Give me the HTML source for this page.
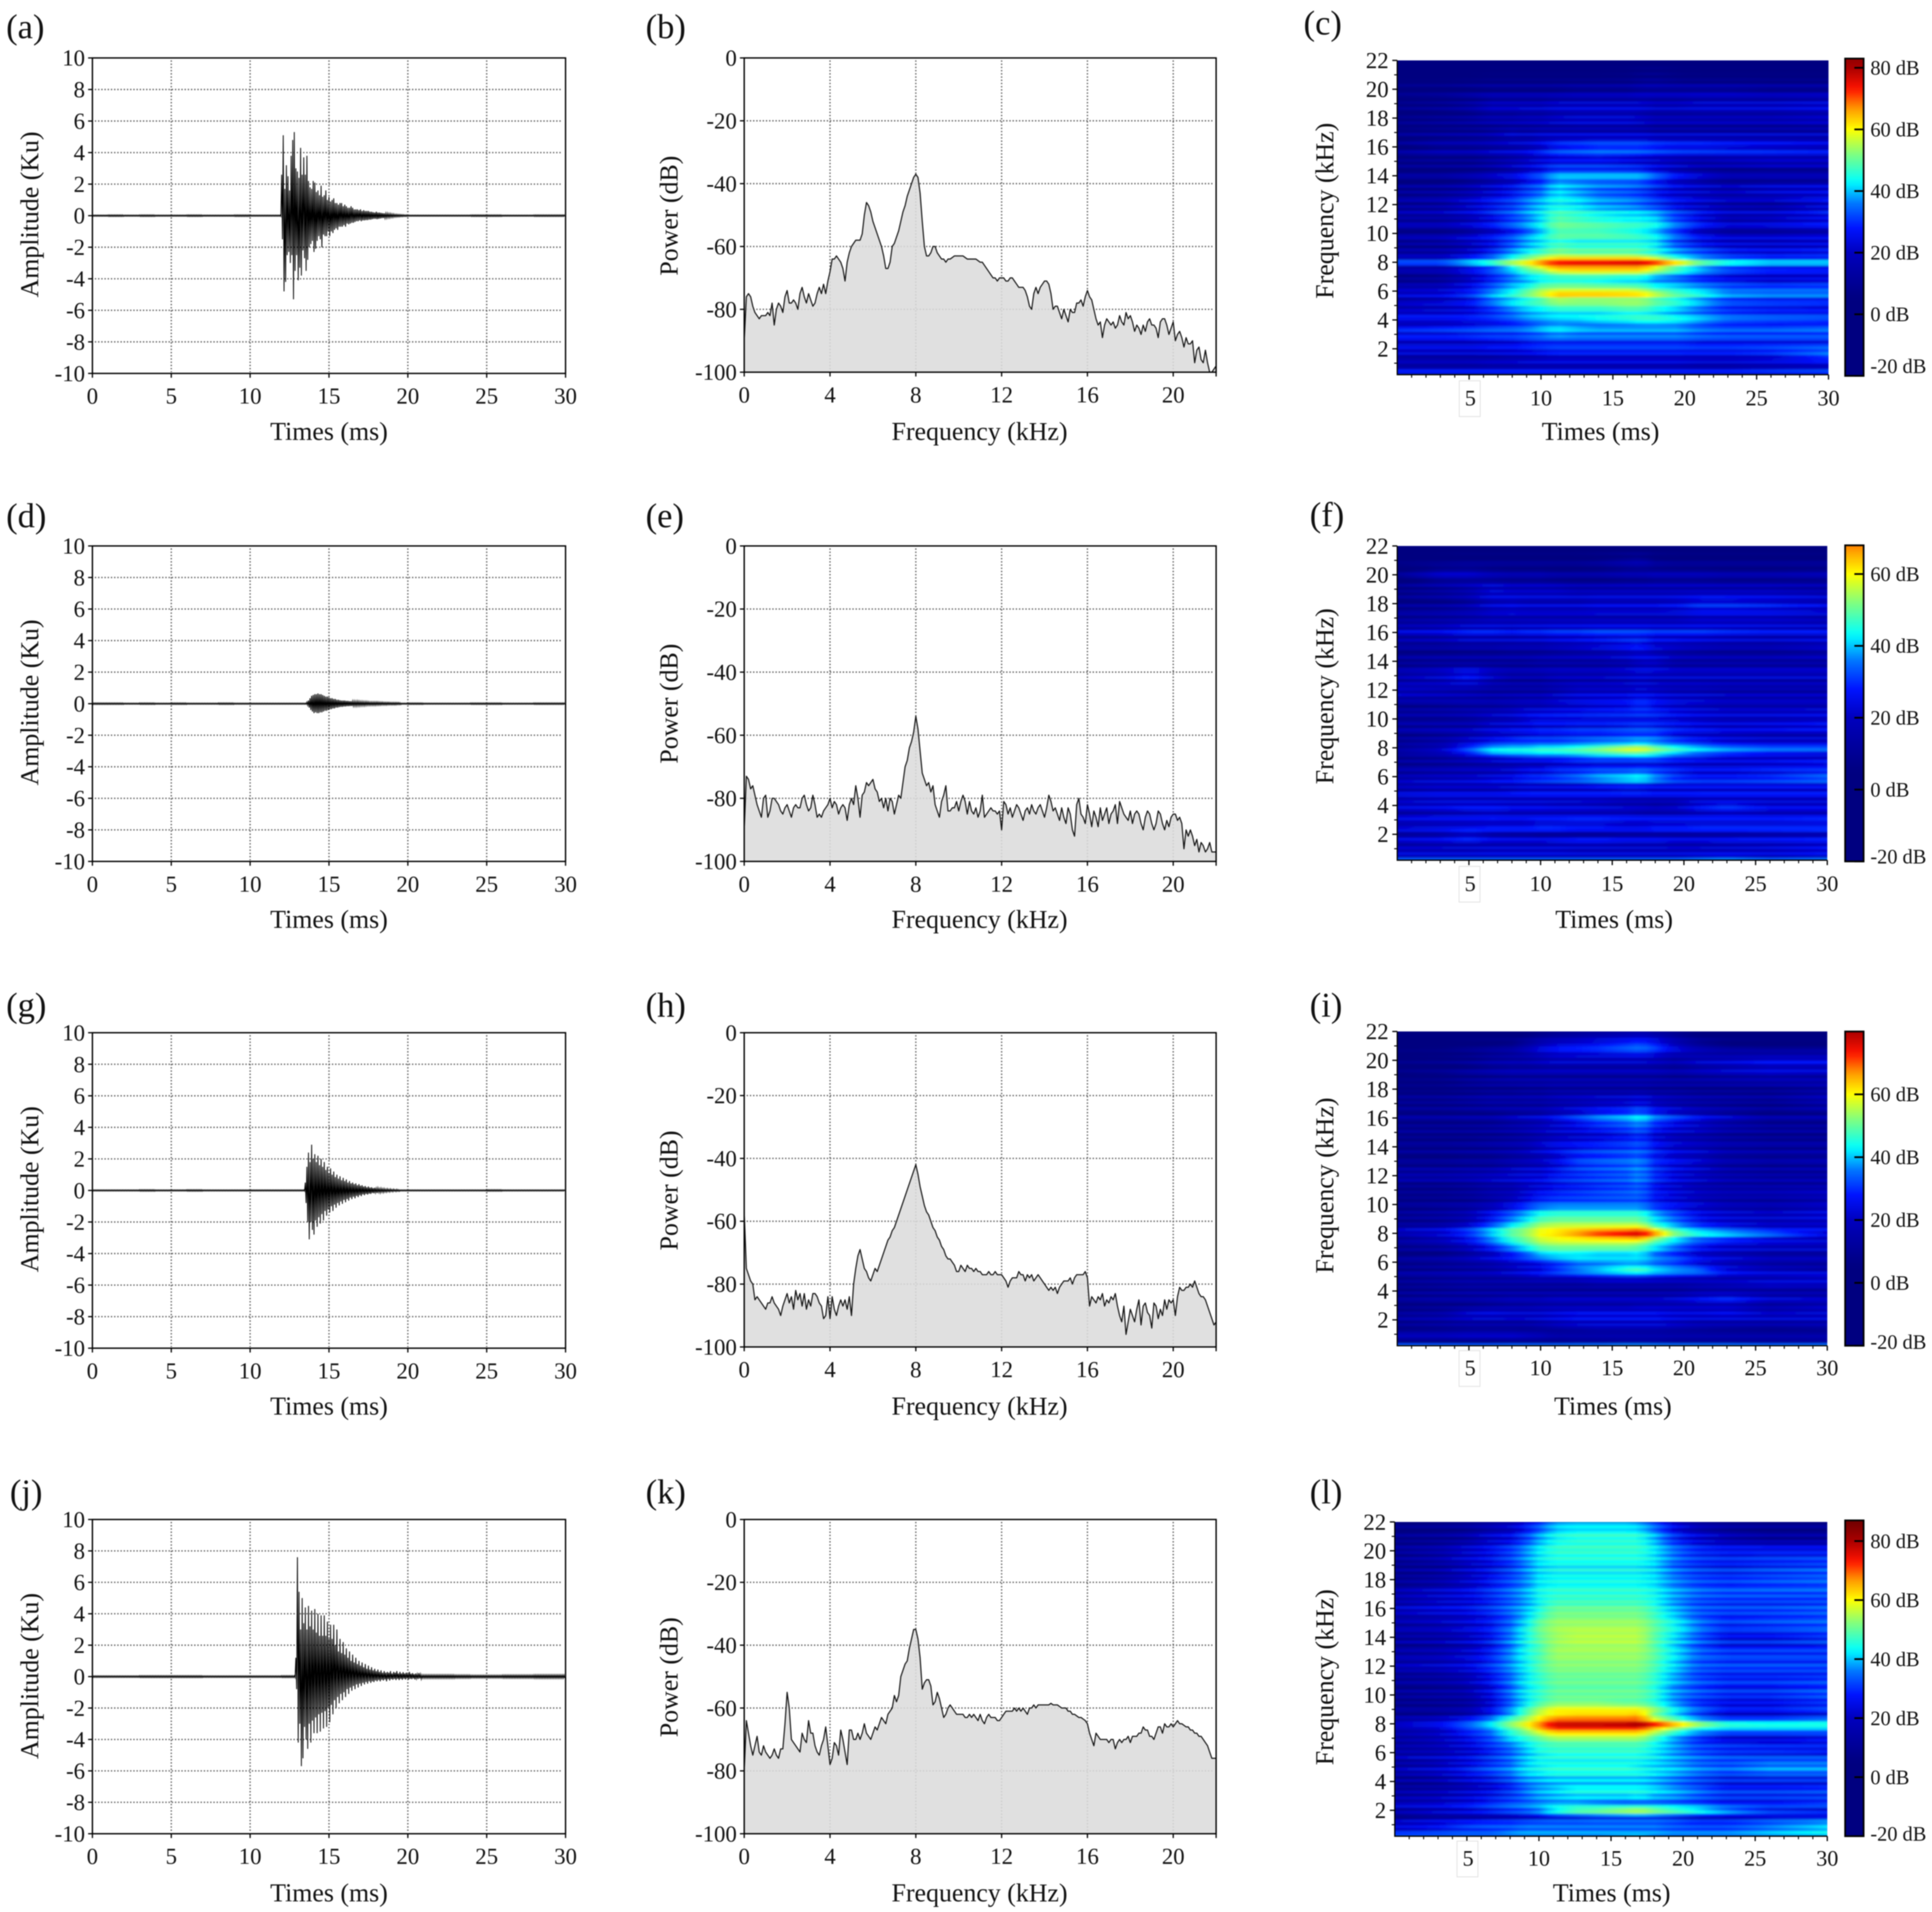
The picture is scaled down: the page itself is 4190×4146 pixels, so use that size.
<!DOCTYPE html>
<html lang="en">
<head>
<meta charset="utf-8">
<title>Waveforms, power spectra and spectrograms</title>
<style>
html,body{margin:0;padding:0;background:#fff;}
body{width:4190px;height:4146px;overflow:hidden;}
#figure{display:block;filter:blur(1px);}
#figure text{font-family:"Liberation Serif",serif;fill:#111;}
.pl{font-size:28px;}
.ttl{font-size:21px;text-anchor:middle;}
</style>
</head>
<body>
<svg id="figure" width="4190" height="4146" viewBox="0 0 1568 1551.5">
<rect x="0" y="0" width="1568" height="1552" fill="#fff"/>
<g id="plots"></g>

<text class="pl" x="5" y="31">(a)</text>
<text class="pl" x="524" y="31">(b)</text>
<text class="pl" x="1058" y="28">(c)</text>
<text class="pl" x="5" y="428">(d)</text>
<text class="pl" x="524" y="428">(e)</text>
<text class="pl" x="1063" y="427">(f)</text>
<text class="pl" x="5" y="825">(g)</text>
<text class="pl" x="524" y="825">(h)</text>
<text class="pl" x="1063" y="825">(i)</text>
<text class="pl" x="8" y="1220">(j)</text>
<text class="pl" x="524" y="1220">(k)</text>
<text class="pl" x="1063" y="1220">(l)</text>

<text class="ttl" x="267" y="357">Times (ms)</text>
<text class="ttl" x="795" y="357">Frequency (kHz)</text>
<text class="ttl" x="1299" y="357">Times (ms)</text>
<text class="ttl" x="267" y="753">Times (ms)</text>
<text class="ttl" x="795" y="753">Frequency (kHz)</text>
<text class="ttl" x="1310" y="753">Times (ms)</text>
<text class="ttl" x="267" y="1148">Times (ms)</text>
<text class="ttl" x="795" y="1148">Frequency (kHz)</text>
<text class="ttl" x="1309" y="1148">Times (ms)</text>
<text class="ttl" x="267" y="1543">Times (ms)</text>
<text class="ttl" x="795" y="1543">Frequency (kHz)</text>
<text class="ttl" x="1308" y="1543">Times (ms)</text>

<text class="ttl" transform="translate(31,174) rotate(-90)">Amplitude (Ku)</text>
<text class="ttl" transform="translate(550,175) rotate(-90)">Power (dB)</text>
<text class="ttl" transform="translate(1082,171) rotate(-90)">Frequency (kHz)</text>
<text class="ttl" transform="translate(31,570) rotate(-90)">Amplitude (Ku)</text>
<text class="ttl" transform="translate(550,571) rotate(-90)">Power (dB)</text>
<text class="ttl" transform="translate(1082,565) rotate(-90)">Frequency (kHz)</text>
<text class="ttl" transform="translate(31,965) rotate(-90)">Amplitude (Ku)</text>
<text class="ttl" transform="translate(550,966) rotate(-90)">Power (dB)</text>
<text class="ttl" transform="translate(1082,962) rotate(-90)">Frequency (kHz)</text>
<text class="ttl" transform="translate(31,1360) rotate(-90)">Amplitude (Ku)</text>
<text class="ttl" transform="translate(550,1361) rotate(-90)">Power (dB)</text>
<text class="ttl" transform="translate(1082,1361) rotate(-90)">Frequency (kHz)</text>
</svg>

<script>
/* ---------- tick labels ---------- */
const waveXTicks=[0,5,10,15,20,25,30];
const waveYTicks=[10,8,6,4,2,0,-2,-4,-6,-8,-10];
const specXTicks=[0,4,8,12,16,20];
const specYTicks=[0,-20,-40,-60,-80,-100];
const sgramFreqTicks=[22,20,18,16,14,12,10,8,6,4,2];
const sgramTimeTicks=[5,10,15,20,25,30];

/* ---------- waveforms: peak envelope every 0.1 ms from onset (Ku), floor per ms ---------- */
const waveAOnset=12.0;
const waveATop=[2.6,5.1,1.7,3.2,2.5,1.6,3.8,4.8,5.3,3.0,2.8,2.4,4.3,2.6,3.7,2.6,3.8,2.2,1.8,1.7,2.2,2.1,1.5,1.6,1.3,1.9,1.2,1.3,1.6,1.0,1.2,.9,1.0,1.1,.8,.8,.7,.8,.8,.6,.7,.6,.5,.5,.6,.5,.4,.4,.4,.35,.4,.3,.35,.3,.3,.3,.25,.25,.22,.2,.25,.2,.2,.18,.16,.15,.14,.14,.12,.12,.1,.1,.08,.08,.07,.07,.06,.06,.05,.05];
const waveABottom=[-1.5,-4.8,-4.2,-2.5,-2.3,-3.0,-2.5,-5.3,-3.5,-2.5,-4.1,-3.3,-3.8,-2.2,-2.7,-3.5,-2.8,-2.0,-1.8,-1.6,-2.3,-2.1,-1.6,-1.3,-1.5,-2.0,-1.2,-1.3,-1.3,-1.0,-1.3,-1.0,-1.1,-.9,-.8,-.9,-.7,-.7,-.7,-.6,-.7,-.5,-.55,-.5,-.45,-.45,-.4,-.35,-.35,-.3,-.35,-.3,-.3,-.28,-.28,-.25,-.25,-.22,-.2,-.2,-.22,-.2,-.18,-.16,-.15,-.15,-.14,-.12,-.12,-.1,-.1,-.08,-.08,-.07,-.07,-.06,-.06,-.05,-.05,-.05];
const waveAFloor=[.04,.05,.04,.05,.04,.04,.05,.04,.04,.05,.04,.04,.04,.04,.04,.04,.04,.04,.04,.04,.04,.04,.04,.04,.05,.05,.04,.04,.05,.05,.05];
const waveDOnset=13.6;
const waveDTop=[.1,.2,.35,.5,.55,.6,.6,.65,.6,.6,.55,.5,.45,.45,.4,.35,.35,.3,.3,.25,.25,.22,.2,.2,.2,.18,.18,.16,.16,.15,.15,.14,.15,.14,.13,.13,.12,.12,.12,.11,.1,.1,.1,.1,.1,.1,.09,.09,.09,.08,.08,.08,.08,.07,.07,.07,.07,.07,.07,.06];
const waveDBottom=[-.1,-.25,-.4,-.5,-.6,-.55,-.6,-.6,-.55,-.55,-.5,-.45,-.45,-.4,-.35,-.35,-.3,-.3,-.25,-.25,-.22,-.2,-.2,-.18,-.18,-.16,-.16,-.15,-.15,-.14,-.14,-.14,-.13,-.13,-.12,-.12,-.12,-.11,-.1,-.1,-.1,-.1,-.1,-.1,-.09,-.09,-.09,-.08,-.08,-.08,-.08,-.07,-.07,-.07,-.07,-.07,-.07,-.06,-.06,-.06];
const waveDFloor=[.05,.05,.04,.05,.04,.05,.04,.04,.05,.04,.04,.04,.04,.04,.04,.04,.04,.04,.04,.04,.05,.04,.04,.04,.05,.05,.04,.04,.05,.05,.05];
const waveGOnset=13.5;
const waveGTop=[.5,1.5,2.4,1.8,2.9,2.0,2.3,1.8,2.2,1.6,2,1.5,1.8,1.3,1.5,1.1,1.4,1.0,1.2,.85,1,.75,.9,.65,.8,.6,.7,.5,.6,.45,.5,.4,.45,.33,.4,.3,.33,.25,.28,.2,.25,.18,.2,.15,.17,.13,.15,.11,.13,.1,.11,.08,.1,.07,.09,.06,.08,.05,.07,.05];
const waveGBottom=[-.8,-2,-3.1,-2.0,-2.5,-2.8,-1.9,-2.3,-1.7,-2.1,-1.5,-1.9,-1.3,-1.6,-1.2,-1.4,-1.0,-1.3,-.9,-1.1,-.8,-.95,-.7,-.85,-.6,-.75,-.55,-.65,-.45,-.55,-.4,-.5,-.35,-.42,-.3,-.36,-.25,-.3,-.22,-.26,-.2,-.22,-.16,-.18,-.13,-.16,-.11,-.14,-.1,-.12,-.09,-.1,-.07,-.09,-.06,-.08,-.05,-.07,-.05,-.06];
const waveGFloor=[.04,.04,.04,.05,.04,.04,.05,.04,.04,.04,.04,.04,.04,.04,.04,.04,.04,.04,.04,.04,.04,.04,.04,.04,.04,.05,.04,.04,.04,.04,.04];
const waveJOnset=12.9;
const waveJTop=[1.2,7.6,5.4,3.0,5.0,3.4,4.4,3.0,4.5,3.2,4.2,3.0,4.3,2.8,4.0,2.6,3.9,2.6,3.9,2.6,3.5,2.4,3.3,2.4,3.3,2.0,3.0,1.6,2.4,1.5,2.2,1.4,1.8,1.2,1.6,1.0,1.4,.9,1.2,.8,1.0,.7,.9,.6,.8,.5,.7,.45,.6,.4,.5,.35,.45,.3,.4,.25,.35,.25,.3,.25,.35,.2,.3,.25,.35,.2,.3,.2,.28,.2,.25,.18,.3,.18,.22,.16,.2,.15,.22,.15];
const waveJBottom=[-.8,-4.2,-3.0,-5.7,-5.2,-3.2,-4.0,-4.6,-3.0,-4.2,-2.8,-3.6,-2.6,-3.6,-2.4,-3.5,-2.3,-3.3,-2.2,-3.2,-2.0,-2.9,-1.8,-2.4,-1.5,-2.0,-1.3,-1.7,-1.1,-1.5,-1.0,-1.3,-.8,-1.1,-.7,-.9,-.6,-.8,-.5,-.7,-.45,-.6,-.4,-.5,-.35,-.45,-.3,-.4,-.3,-.35,-.25,-.3,-.22,-.3,-.2,-.25,-.18,-.3,-.16,-.25,-.16,-.2,-.15,-.22,-.14,-.22,-.14,-.2,-.13,-.18,-.12,-.18,-.14,-.16,-.12,-.18,-.12,-.15,-.12,-.15];
const waveJFloor=[.05,.05,.05,.06,.06,.06,.06,.05,.05,.05,.05,.05,.06,.06,.06,.06,.06,.06,.06,.06,.1,.1,.1,.09,.08,.08,.09,.09,.1,.1,.1];

/* ---------- spectra: power (dB) every 0.1 kHz ---------- */
const spectrumB=[-90,-76,-75,-76,-79,-81,-82,-83,-82,-82,-82,-81,-82,-78,-85,-80,-78,-79,-81,-76,-74,-78,-78,-77,-78,-80,-75,-73,-76,-78,-75,-77,-79,-78,-75,-73,-75,-72,-75,-71,-68,-64,-64,-63,-64,-65,-67,-71,-65,-62,-60,-59,-58,-58,-58,-56,-50,-46,-47,-49,-52,-54,-56,-58,-60,-63,-67,-67,-65,-60,-59,-57,-55,-52,-49,-47,-44,-42,-40,-38,-37,-38,-43,-52,-60,-63,-63,-62,-60,-60,-62,-63,-64,-64,-65,-64,-64,-63.5,-63,-63,-63,-63,-63,-63.5,-64,-64,-64,-64,-64,-64.5,-65,-65,-66,-67,-68,-69,-70,-70,-71,-70,-70,-70,-71,-71,-70,-70,-71,-72,-73,-73,-73,-74,-76,-79,-80,-75,-73,-75,-73,-72,-71,-71,-72,-75,-80,-79,-79,-81,-83,-80,-82,-84,-80,-81,-81,-78,-78,-77,-79,-76,-74,-76,-77,-80,-83,-85,-84,-89,-85,-83,-84,-85,-84,-86,-85,-82,-84,-85,-81,-83,-82,-84,-87,-85,-86,-88,-85,-87,-84,-83,-85,-85,-86,-89,-84,-83,-83,-85,-88,-86,-84,-90,-88,-87,-89,-92,-89,-91,-91,-90,-97,-93,-92,-96,-97,-93,-97,-100,-100,-99,-98];
const spectrumE=[-90,-73,-74,-77,-76,-79,-82,-84,-86,-80,-79,-86,-84,-80,-80,-81,-82,-84,-85,-83,-82,-84,-86,-83,-82,-83,-83,-80,-79,-82,-84,-83,-79,-82,-86,-85,-86,-84,-83,-82,-80,-83,-81,-82,-85,-83,-82,-83,-87,-82,-80,-82,-76,-80,-86,-79,-78,-75,-76,-75,-74,-77,-78,-81,-80,-83,-80,-84,-80,-81,-85,-82,-79,-80,-75,-70,-68,-64,-62,-59,-54,-58,-65,-72,-74,-76,-75,-78,-76,-82,-84,-86,-81,-79,-76,-84,-84,-83,-83,-81,-84,-81,-79,-81,-85,-81,-84,-85,-83,-86,-84,-79,-86,-85,-84,-83,-84,-84,-85,-84,-90,-81,-82,-85,-83,-86,-84,-82,-83,-85,-87,-84,-83,-85,-82,-84,-85,-83,-82,-84,-86,-83,-79,-81,-84,-83,-85,-87,-83,-86,-88,-83,-85,-90,-92,-82,-80,-85,-86,-88,-82,-85,-89,-84,-86,-89,-83,-87,-85,-83,-88,-85,-84,-82,-88,-81,-83,-85,-86,-87,-84,-88,-85,-84,-85,-88,-90,-86,-84,-85,-88,-90,-88,-84,-85,-88,-90,-87,-89,-86,-85,-85,-87,-86,-88,-96,-90,-92,-90,-92,-95,-93,-97,-94,-95,-97,-96,-94,-97,-97,-97];
const spectrumH=[-57,-75,-77,-79,-80,-85,-84,-85,-86,-87,-88,-86,-86,-84,-86,-87,-88,-90,-87,-85,-83,-86,-84,-88,-82,-85,-83,-87,-83,-88,-85,-87,-83,-83,-84,-86,-87,-91,-90,-84,-91,-84,-88,-90,-87,-85,-87,-85,-88,-84,-90,-80,-75,-71,-69,-72,-75,-76,-78,-79,-77,-75,-76,-74,-72,-70,-68,-66,-65,-63,-62,-60,-58,-56,-54,-52,-50,-48,-46,-44,-42,-45,-49,-52,-55,-57,-58,-60,-62,-63,-65,-66,-68,-69,-71,-72,-72,-73,-74,-76,-76,-74,-75,-76,-74,-75,-75,-76,-75,-76,-76,-77,-77,-77,-76,-77,-77,-76,-77,-77,-77,-78,-79,-81,-79,-78,-78,-78,-76,-77,-77,-79,-77,-78,-77,-79,-78,-77,-78,-79,-80,-81,-82,-81,-82,-81,-83,-81,-80,-79,-79,-79,-78,-80,-78,-77,-77,-77,-77,-76,-78,-87,-84,-85,-86,-84,-85,-83,-87,-85,-86,-84,-85,-83,-87,-90,-92,-87,-96,-92,-88,-90,-92,-88,-85,-93,-87,-86,-89,-90,-94,-86,-87,-91,-88,-90,-85,-88,-85,-86,-85,-90,-84,-81,-82,-82,-81,-81,-80,-81,-79,-81,-83,-84,-84,-85,-87,-89,-91,-93,-92];
const spectrumK=[-80,-64,-68,-72,-75,-72,-69,-74,-75,-72,-74,-75,-76,-75,-73,-75,-76,-73,-73,-65,-55,-60,-70,-71,-72,-73,-74,-68,-70,-71,-64,-68,-68,-72,-74,-75,-72,-70,-66,-72,-78,-76,-71,-72,-75,-67,-70,-74,-78,-67,-67,-70,-70,-68,-70,-68,-65,-68,-69,-70,-68,-66,-67,-65,-63,-64,-65,-62,-61,-60,-56,-58,-56,-50,-48,-46,-45,-41,-38,-35,-35,-38,-44,-54,-52,-51,-51,-53,-59,-58,-55,-57,-60,-63,-62,-60,-59,-60,-61,-62,-62,-62,-62,-63,-63,-62,-63,-62,-63,-64,-62,-64,-65,-63,-62,-63,-63,-63,-64,-64,-63,-62,-61,-61,-61,-61,-60,-61,-60,-61,-60,-61,-62,-60,-60,-59,-60,-59,-59,-59,-59,-59,-59,-58.5,-59,-59,-59,-59.5,-60,-60,-60,-61,-61,-62,-62,-62.5,-63,-63,-63.5,-64,-65,-68,-70,-72,-68,-69,-70,-70,-70,-70,-71,-70,-70,-73,-71,-70,-71,-70,-70,-69,-71,-69,-69,-69,-68,-68,-66,-67,-67,-69,-69,-70,-68,-66,-66,-68,-65,-66,-66,-65,-66,-65,-64,-65,-65,-65.5,-66,-66,-67,-67,-68,-68,-69,-69,-70,-71,-72,-74,-76,-76,-76];

/* ---------- spectrograms: dB at (rowFreq kHz, colTime ms) ---------- */
const rowFreq=[0.1,0.5,1,1.5,2,2.5,3,3.5,4,4.5,5,5.5,5.8,6.2,6.6,7,7.4,7.7,8,8.3,8.6,9,9.5,10,11,12,13,14,15,16,17,18,19,20,21,22];
const colTime=[0,3,5,6.5,8,9,10,11,12.5,14,16,17,18,19.5,21,23,26,30];
const sgramC=[
[30,30,30,30,30,30,30,30,30,30,30,30,30,30,30,30,30,32],
[22,22,22,22,22,22,22,22,22,22,22,22,22,22,22,22,24,26],
[18,18,18,20,20,22,22,22,22,22,22,22,22,22,20,20,22,24],
[20,20,20,20,22,22,24,26,26,26,26,26,26,26,26,26,28,36],
[20,20,20,22,22,24,25,27,27,27,27,27,27,27,26,26,28,32],
[22,22,22,24,26,28,30,30,30,30,30,30,30,30,28,28,28,28],
[24,24,26,28,28,30,32,36,34,34,34,34,34,34,32,30,30,30],
[24,26,28,30,32,34,38,41,38,36,36,36,36,36,32,30,30,32],
[22,22,24,26,30,34,36,38,39,42,44,46,46,44,40,34,32,30],
[22,22,24,28,34,38,40,42,42,42,44,44,42,38,34,30,28,28],
[18,20,24,32,40,44,46,50,50,50,52,52,48,44,38,30,28,26],
[18,20,26,36,42,46,50,56,54,54,54,54,50,46,40,32,30,30],
[20,22,28,38,46,52,58,66,66,66,65,64,58,50,46,38,36,36],
[18,18,24,32,40,46,52,54,54,54,54,52,46,42,38,32,32,32],
[10,12,20,28,36,38,44,46,46,44,42,42,38,36,32,28,24,26],
[10,12,20,28,36,42,44,46,46,46,44,44,38,34,28,24,22,24],
[12,14,22,30,38,46,50,58,60,60,60,60,54,46,38,30,26,24],
[20,20,28,34,46,54,60,68,68,68,68,68,60,50,42,34,30,30],
[36,36,44,50,58,62,70,76,78,78,79,80,76,66,54,48,44,44],
[22,22,30,36,46,52,58,64,64,64,64,64,58,48,40,34,30,30],
[14,14,20,28,38,44,48,52,50,50,50,48,44,36,32,26,24,26],
[10,12,16,24,34,40,44,50,48,48,48,48,44,36,30,24,22,24],
[12,14,20,24,32,38,42,46,44,44,44,44,42,30,24,20,20,22],
[14,14,18,24,30,36,42,50,50,50,48,46,42,34,24,18,18,20],
[14,14,18,24,32,36,42,50,48,46,44,44,42,32,26,18,20,26],
[12,14,20,26,30,36,40,44,42,38,36,34,30,24,20,16,14,22],
[10,12,16,20,26,30,34,42,38,34,32,30,26,22,20,18,22,24],
[8,8,12,16,20,26,30,38,38,38,38,38,32,24,18,12,12,12],
[6,8,8,12,16,18,22,24,24,24,22,20,18,16,14,16,18,18],
[8,14,14,16,18,20,24,30,32,34,34,34,32,30,30,28,26,24],
[5,8,10,12,16,14,16,16,16,16,16,16,14,14,14,14,14,14],
[5,8,10,14,14,16,16,18,20,20,20,18,16,16,16,16,16,18],
[5,8,12,18,18,18,18,20,20,20,20,20,18,18,20,20,20,22],
[4,5,8,10,10,10,10,10,12,12,12,14,14,14,14,14,12,12],
[3,3,3,4,4,4,4,4,4,4,5,8,8,5,4,4,4,4],
[3,3,3,3,3,3,3,3,3,3,3,3,3,3,3,3,3,3]];
const sgramF=[
[34,34,34,34,34,34,34,34,34,34,34,34,34,34,36,38,34,36],
[24,24,24,24,24,24,24,24,24,24,24,24,24,24,26,28,24,26],
[16,16,16,18,18,18,18,18,16,16,16,16,16,16,16,16,18,22],
[18,20,22,20,20,20,20,22,24,24,22,22,22,20,20,22,22,24],
[16,18,26,18,16,16,14,14,14,14,16,16,16,16,16,16,18,20],
[20,22,24,26,26,26,28,28,26,26,24,24,26,26,28,28,28,28],
[20,22,22,22,22,22,24,24,26,26,24,24,24,24,24,24,24,26],
[16,18,20,22,20,20,20,20,20,20,20,18,18,18,20,22,20,20],
[20,22,24,24,22,22,22,20,20,18,16,16,14,16,24,28,22,22],
[20,22,22,22,22,22,22,22,22,22,20,20,20,20,22,22,22,22],
[18,20,20,20,22,24,24,24,24,24,26,26,24,24,24,24,24,24],
[16,18,18,18,18,20,20,20,22,24,26,26,24,24,24,24,24,24],
[16,18,20,24,26,28,30,32,34,38,42,44,38,30,28,28,30,34],
[18,20,20,22,24,28,28,30,34,38,40,42,36,30,26,26,28,34],
[10,12,14,14,16,20,20,24,24,26,26,28,26,24,22,22,24,24],
[12,14,16,18,20,20,20,22,26,26,26,26,26,24,22,22,24,28],
[10,12,18,22,26,28,30,30,32,36,36,38,36,30,28,24,22,20],
[14,20,30,40,42,42,44,44,46,48,52,52,48,42,36,32,28,26],
[16,22,36,44,46,46,48,48,50,54,60,62,56,50,46,42,40,40],
[12,16,24,30,32,32,34,34,36,38,40,42,38,34,30,26,24,24],
[10,14,20,24,28,30,30,30,32,34,36,38,36,30,26,22,20,20],
[10,12,16,20,22,24,26,26,28,28,30,30,30,24,22,20,18,18],
[14,16,16,20,22,22,24,24,26,26,28,30,28,26,24,22,24,26],
[12,12,14,18,20,24,26,26,26,26,26,26,26,24,22,20,20,22],
[10,12,14,14,16,18,18,20,22,24,26,30,26,22,20,18,18,18],
[20,18,16,14,14,14,14,16,20,20,20,22,20,18,18,16,16,16],
[14,18,26,18,14,14,14,16,16,16,18,20,18,18,18,18,18,18],
[10,12,12,12,12,12,14,14,14,14,16,20,20,14,14,14,14,14],
[10,10,12,12,14,14,14,16,18,20,24,26,20,18,16,14,14,18],
[18,20,24,24,22,24,24,26,26,28,28,28,26,26,26,24,22,22],
[12,14,16,18,18,18,18,18,18,18,18,18,18,18,20,20,20,18],
[8,10,14,20,22,20,20,20,20,22,22,22,22,24,28,28,26,22],
[6,10,14,20,18,18,18,18,16,16,16,16,16,16,16,16,16,14],
[6,18,18,14,12,12,12,10,10,10,12,12,14,14,14,12,12,14],
[3,4,6,6,6,6,6,6,6,8,12,14,8,6,6,6,6,6],
[3,3,3,3,3,3,3,3,3,3,3,3,3,3,3,3,3,3]];
const sgramI=[
[46,46,46,46,46,46,46,46,46,46,48,48,46,46,46,46,44,44],
[10,10,10,10,12,12,12,12,14,14,16,16,16,14,14,14,14,16],
[20,20,22,22,22,20,18,14,14,14,14,14,14,14,14,14,14,14],
[10,12,14,14,14,14,16,18,20,22,22,22,22,20,18,16,14,16],
[12,14,16,16,16,16,18,20,22,22,22,22,22,20,18,18,18,18],
[10,12,20,22,20,20,20,22,24,24,24,24,24,22,22,24,18,20],
[8,10,12,14,16,16,18,18,18,18,18,20,20,20,20,20,16,20],
[8,10,10,12,14,14,14,16,16,16,16,16,16,18,22,26,18,16],
[10,12,14,14,14,14,14,14,14,14,14,14,14,14,16,16,14,14],
[8,10,12,12,12,12,12,12,12,14,14,14,14,14,16,18,22,20],
[10,12,14,14,16,18,20,20,22,24,26,26,24,22,20,18,18,22],
[10,12,14,16,20,24,26,32,38,42,48,50,44,40,38,26,20,16],
[10,12,14,16,20,22,24,28,34,36,40,40,36,32,26,20,16,14],
[8,10,14,18,22,26,30,34,38,38,38,38,34,30,22,18,14,14],
[8,10,16,22,30,36,42,44,44,42,42,44,36,30,24,20,16,16],
[10,12,18,26,36,42,48,50,50,50,50,48,42,34,26,22,20,20],
[10,14,22,32,42,48,54,56,56,56,56,54,46,38,30,24,20,18],
[14,20,28,38,48,52,58,60,62,64,66,68,56,44,36,32,26,22],
[18,22,30,40,50,54,60,62,68,74,78,80,70,54,48,44,38,24],
[16,20,28,38,48,52,58,60,62,64,66,68,58,44,36,30,24,22],
[12,14,22,32,42,48,54,56,56,56,56,56,46,38,30,24,20,20],
[10,12,16,26,36,42,48,50,50,50,50,50,42,34,26,22,20,22],
[8,10,14,22,30,36,42,44,44,44,44,44,36,28,22,18,16,20],
[8,10,12,16,22,28,32,34,34,34,34,34,28,24,20,16,14,18],
[8,8,10,14,16,20,24,26,28,30,32,34,26,22,18,16,16,18],
[14,14,16,18,20,22,22,26,28,30,32,36,28,22,18,14,12,12],
[8,8,10,10,14,16,18,22,30,32,34,36,28,24,20,14,12,14],
[8,8,10,12,14,16,20,24,26,28,30,32,26,20,18,14,12,12],
[8,8,8,10,12,14,16,18,20,22,26,30,22,18,16,12,10,10],
[8,8,10,10,14,16,18,22,28,34,38,42,34,28,22,16,10,10],
[10,10,12,14,14,14,14,16,18,20,22,26,20,16,14,12,10,16],
[5,5,8,10,10,12,12,14,14,14,14,14,12,12,10,10,10,14],
[3,5,10,12,14,14,14,14,14,14,14,14,14,12,14,16,18,16],
[3,5,8,12,14,14,16,18,18,18,18,18,16,14,18,20,24,24],
[3,3,6,8,10,16,22,26,28,30,34,36,32,22,14,8,5,5],
[3,3,3,3,3,4,6,8,10,12,14,16,12,8,4,3,3,3]];
const sgramL=[
[40,40,40,40,40,40,40,40,40,40,44,46,40,40,40,40,40,40],
[26,28,30,30,34,36,36,36,36,36,36,36,36,34,34,34,38,42],
[20,24,30,32,32,34,34,34,34,34,34,34,34,32,30,30,34,40],
[14,18,18,20,22,24,26,28,28,30,30,30,30,28,24,24,28,30],
[16,20,24,28,32,34,38,46,52,54,58,60,56,52,48,40,30,26],
[18,20,24,28,32,34,36,38,38,36,34,34,34,32,30,26,26,30],
[16,18,22,26,30,34,38,40,42,42,42,44,40,38,34,30,30,30],
[12,14,18,22,28,34,38,40,44,44,44,44,42,38,34,28,28,30],
[12,14,20,24,30,36,38,40,40,40,40,40,38,34,30,26,26,26],
[14,18,24,28,34,40,42,44,44,44,44,44,42,38,34,30,32,32],
[16,20,26,32,36,42,44,46,46,46,46,44,42,40,36,34,38,38],
[14,18,24,28,34,40,44,44,44,44,44,44,42,38,34,32,34,34],
[14,16,20,26,32,38,42,44,44,44,44,44,42,36,32,28,26,26],
[12,14,18,24,32,38,44,46,46,46,46,46,42,36,30,26,26,24],
[14,18,24,30,36,42,46,48,48,48,48,48,44,38,32,30,28,28],
[16,20,26,32,42,46,50,54,54,54,54,54,48,38,30,22,22,26],
[14,18,26,32,44,50,56,62,62,62,62,62,54,44,36,30,30,30],
[16,20,30,36,48,54,64,72,72,72,72,72,64,54,44,40,40,40],
[20,26,34,42,54,60,68,78,80,80,81,84,78,68,58,48,46,46],
[16,20,28,36,48,54,62,70,70,70,70,70,60,50,40,34,34,38],
[10,12,16,26,40,50,58,62,64,64,64,66,52,42,30,20,20,24],
[10,10,14,22,36,46,54,60,60,60,60,60,54,42,34,26,26,30],
[10,12,14,22,34,42,48,52,52,52,50,50,46,38,30,26,26,30],
[10,12,14,22,34,42,46,50,50,50,50,50,46,36,32,28,28,32],
[10,12,16,24,34,42,46,50,50,50,50,50,46,38,32,28,28,30],
[16,18,22,28,36,42,48,52,52,52,52,52,48,40,32,30,30,30],
[14,16,20,26,36,44,48,54,54,54,54,54,50,42,34,30,30,30],
[14,16,20,26,36,44,50,54,56,56,56,56,50,42,34,26,26,30],
[16,18,22,26,34,42,50,54,54,54,54,54,50,44,36,30,32,34],
[18,22,24,28,34,38,44,50,50,50,50,50,46,38,32,30,30,32],
[16,20,24,28,34,38,44,46,46,46,46,46,44,38,34,32,32,32],
[10,14,20,26,32,36,42,44,44,44,44,44,42,36,32,30,32,34],
[10,14,20,24,30,36,42,44,44,44,44,44,42,34,30,28,30,32],
[10,14,20,24,30,36,42,46,46,46,46,46,42,34,28,26,26,26],
[8,10,14,20,24,30,38,44,46,46,46,46,40,28,22,16,12,12],
[6,8,10,14,18,24,30,38,40,40,40,38,32,22,14,10,8,8]];

/* fine streak offsets (dB) per 0.2 kHz band, low to high */
const streakC=[6,-4,8,-6,-8,2,-4,-10,4,-2,6,2,-8,4,6,-4,8,2,-6,-2,4,6,-4,2,-6,4,2,-8,6,-2,4,-2,6,-4,2,-6,4,2,-8,0,2,-6,4,-4,6,-8,4,-6,6,2,-8,-6,4,6,-6,2,-4,8,-6,4,-8,6,2,-6,4,-8,6,-4,-6,4,6,-2,-8,6,-4,4,-6,2,8,-6,-4,6,-2,-4,8,-6,2,-8,6,-2,4,-6,-2,6,-4,4,-8,2,6,-6,-2,6,-4,2,-6,2,-4,2,-2,0];
const streakF=[8,6,-8,4,-2,6,-6,2,8,-4,-6,6,2,-4,-2,6,4,-6,2,6,-4,2,-6,4,6,-8,4,-2,6,-4,2,-8,6,2,-6,4,-4,2,-2,0,-6,2,-4,4,-6,2,6,-8,4,-2,-4,6,-2,4,-6,2,4,-4,6,-6,2,-2,4,-8,6,-2,4,6,-6,2,-4,6,-2,-6,4,2,-4,6,-8,2,8,-6,4,-4,2,-6,4,2,-4,6,-6,-2,6,-2,4,-4,6,-4,-6,2,6,-2,-4,2,4,-2,-4,2,-2,0];
const streakI=[10,6,-4,-2,2,-2,-6,-4,2,-6,6,-2,4,-4,2,-6,2,6,-4,4,-6,2,-2,4,-4,2,6,-6,2,-4,2,6,-2,-6,4,-4,2,4,-6,2,-2,6,-4,2,-6,4,-2,6,-4,2,4,-6,2,-2,4,-4,2,-6,6,-2,4,-4,6,-6,2,4,-4,-2,6,-6,2,4,-4,2,-6,6,-2,4,-4,2,8,-6,-2,4,-6,2,-2,6,-4,2,-6,4,-2,4,-6,2,6,-4,-2,6,-4,2,-2,4,2,-2,-2,2,-2,0];
const streakL=[6,-4,6,-6,4,-2,6,-8,-6,4,-8,6,2,-6,4,-8,6,-4,2,-8,6,-10,4,-4,6,-8,2,-6,8,-4,6,-2,4,-6,2,-6,4,-2,2,2,2,-4,6,-6,2,4,-6,2,-6,4,-4,6,-6,-2,6,-4,2,-6,4,-2,6,-6,2,4,-6,4,-2,-10,6,-8,2,-6,4,2,-8,4,-2,-6,4,-4,6,-8,2,-6,4,-6,6,-2,-6,4,-4,2,-8,6,-10,2,-4,6,-6,4,-2,6,-6,2,-8,6,-2,-6,4,-2];

/* dB -> colour */
const colorDb=[5,20,28,36,43,52,60,67,73,80,87];
const colorHex=['#000080','#0000be','#0014ff','#0078ff','#00ffff','#80ff80','#ffff00','#ff9600','#ff1400','#aa0000','#6e0000'];

/* ---------- layout ---------- */
const svg=document.getElementById('figure');
const root=document.getElementById('plots');
const NS=svg.namespaceURI;
const defs=document.createElementNS(NS,'defs');
root.appendChild(defs);
function make(parent,tag,attrs,txt){
  const e=document.createElementNS(NS,tag);
  for(const k in attrs) e.setAttribute(k,attrs[k]);
  if(txt!==undefined) e.textContent=txt;
  parent.appendChild(e);
  return e;
}
function linear(d0,d1,r0,r1){return v=>r0+(v-d0)*(r1-r0)/(d1-d0);}
function hexRgb(h){return [1,3,5].map(i=>parseInt(h.substr(i,2),16));}
const colorRgb=colorHex.map(hexRgb);
function dbColor(v){
  if(v<=colorDb[0]) return colorHex[0];
  const n=colorDb.length-1;
  if(v>=colorDb[n]) return colorHex[n];
  let i=0;while(v>colorDb[i+1]) i++;
  const u=(v-colorDb[i])/(colorDb[i+1]-colorDb[i]);
  const a=colorRgb[i],b=colorRgb[i+1];
  return 'rgb('+a.map((c,j)=>Math.round(c+(b[j]-c)*u)).join(',')+')';
}
const TICKFONT=18.5;
const GRID={stroke:'#555','stroke-width':1.05,'stroke-dasharray':'1.05 1.55'};
function drawGridAndFrame(g,L,xs,ys,xTicks,yTicks,xMaxTick){
  yTicks.forEach(v=>{
    const y=ys(v);
    const lab=make(g,'text',{x:L.x0-6,y:y+6.2,'text-anchor':'end','font-size':TICKFONT},v);
    
    
    const t=make(g,'line',{x1:L.x0-3.5,x2:L.x0,y1:y,y2:y,stroke:'#000','stroke-width':1});
    
    
    if(y>L.y0+1&&y<L.y1-1&&v!==0){
      const gl=make(g,'line',Object.assign({x1:L.x0+2,x2:L.x1-3,y1:y,y2:y},GRID));
      
      
    }
  });
  xTicks.forEach(v=>{
    const x=xs(v);
    const lab=make(g,'text',{x:x,y:L.y1+24.5,'text-anchor':'middle','font-size':TICKFONT},v);
    
    
    const t=make(g,'line',{x1:x,x2:x,y1:L.y1,y2:L.y1+3.5,stroke:'#000','stroke-width':1});
    
    
    if(x>L.x0+1&&x<L.x1-1){
      const gl=make(g,'line',Object.assign({x1:x,x2:x,y1:L.y0+2,y2:L.y1-1},GRID));
      
      
    }
  });
  if(xMaxTick!==undefined){
    const t=make(g,'line',{x1:xs(xMaxTick),x2:xs(xMaxTick),y1:L.y1,y2:L.y1+3.5,stroke:'#000','stroke-width':1});
    
    
  }
}
function drawFrame(g,L){
  const f=make(g,'rect',{x:L.x0,y:L.y0,width:L.x1-L.x0,height:L.y1-L.y0,fill:'none',stroke:'#000','stroke-width':1.1});
  
  
}
function drawWave(id,L,onset,top,bottom,floorV){
  const g=make(root,'g',{});
  
  
  const xs=linear(0,30,L.x0,L.x1),ys=linear(10,-10,L.y0,L.y1);
  drawGridAndFrame(g,L,xs,ys,waveXTicks,waveYTicks);
  const pts=[];
  const n0=Math.round(onset*10);
  for(let i=0;i<300;i++){
    const t=i/10,k=i-n0;
    let hi,lo;
    if(k>=0&&k<top.length){hi=top[k];lo=bottom[k];}
    else{const f=floorV[Math.floor(t)];hi=f;lo=-f;}
    pts.push(xs(t).toFixed(2)+','+ys(hi).toFixed(2));
    pts.push(xs(t+.05).toFixed(2)+','+ys(lo).toFixed(2));
  }
  const line=make(g,'polyline',{points:pts.join(' '),fill:'none',stroke:'#000','stroke-width':.7,'stroke-linejoin':'miter','stroke-miterlimit':6});
  
  
  drawFrame(g,L);
}
function drawSpectrum(id,L,vals){
  const g=make(root,'g',{});
  
  
  const xs=linear(0,22,L.x0,L.x1),ys=linear(0,-100,L.y0,L.y1);
  drawGridAndFrame(g,L,xs,ys,specXTicks,specYTicks,22);
  const pts=vals.map((v,i)=>xs(i/10).toFixed(2)+','+ys(v).toFixed(2));
  const area=make(g,'polygon',{points:xs(0)+','+ys(-100)+' '+pts.join(' ')+' '+xs(22)+','+ys(-100),fill:'#dcdcdc','fill-opacity':.88});
  
  
  const line=make(g,'polyline',{points:pts.join(' '),fill:'none',stroke:'#111','stroke-width':.9,'stroke-linejoin':'round'});
  
  
  drawFrame(g,L);
}
function sampleDb(mat,f,t){
  let r=0;while(r<rowFreq.length-2&&f>rowFreq[r+1]) r++;
  let c=0;while(c<colTime.length-2&&t>colTime[c+1]) c++;
  const u=Math.min(1,Math.max(0,(f-rowFreq[r])/(rowFreq[r+1]-rowFreq[r])));
  const w=Math.min(1,Math.max(0,(t-colTime[c])/(colTime[c+1]-colTime[c])));
  const a=mat[r][c]*(1-w)+mat[r][c+1]*w;
  const b=mat[r+1][c]*(1-w)+mat[r+1][c+1]*w;
  return a*(1-u)+b*u;
}
function drawSgram(id,L,mat,streaks,cb,tickY,boxName){
  const g=make(root,'g',{});
  
  
  const xs=linear(0,30,L.x0,L.x1);
  const ys=linear(22,2,L.y0,L.y0+234);
  const clip=make(defs,'clipPath',{id:'clip-'+id});
  make(clip,'rect',{x:L.x0,y:L.y0,width:L.x1-L.x0,height:L.y1-L.y0});
  const blur=make(defs,'filter',{id:'vblur-'+id,x:'-2%',y:'-2%',width:'104%',height:'104%'});
  make(blur,'feGaussianBlur',{stdDeviation:'0 .75'});
  const clipG=make(g,'g',{'clip-path':'url(#clip-'+id+')'});
  
  
  const heat=make(clipG,'g',{filter:'url(#vblur-'+id+')'});
  const base=make(heat,'rect',{x:L.x0-5,y:L.y0-5,width:L.x1-L.x0+10,height:L.y1-L.y0+10,fill:'#000080'});
  
  
  const STOPS=46;
  streaks.forEach((s,i)=>{
    const fLo=i*.2,fHi=fLo+.2,fMid=fLo+.1;
    const grad=make(defs,'linearGradient',{id:'row-'+id+'-'+i});
    for(let k=0;k<STOPS;k++){
      const t=30*k/(STOPS-1);
      const d=sampleDb(mat,fMid,t);
      const wgt=Math.min(1,Math.max(.15,(60-d)/45));
      make(grad,'stop',{offset:(k/(STOPS-1)).toFixed(3),'stop-color':dbColor(d+s*wgt)});
    }
    const yTop=ys(fHi),yBot=Math.max(ys(fLo),i===0?L.y1+4:0);
    const cell=make(heat,'rect',{x:L.x0,y:yTop.toFixed(2),width:L.x1-L.x0,height:(yBot-yTop+.4).toFixed(2),fill:'url(#row-'+id+'-'+i+')'});
    
    
  });
  const ax=make(g,'path',{d:'M'+L.x0+' '+L.y0+'V'+L.y1+'H'+L.x1,fill:'none',stroke:'#000','stroke-width':1});
  
  
  sgramFreqTicks.forEach(v=>{
    const y=ys(v);
    const lab=make(g,'text',{x:L.x0-7,y:y+6.2,'text-anchor':'end','font-size':TICKFONT},v);
    
    
    const t=make(g,'line',{x1:L.x0-4,x2:L.x0,y1:y,y2:y,stroke:'#000','stroke-width':1});
    
    
    const m=ys(v-1);
    if(m<L.y1){
      const mt=make(g,'line',{x1:L.x0-2.5,x2:L.x0,y1:m,y2:m,stroke:'#000','stroke-width':.8});
      
      
    }
  });
  for(let ms=1;ms<=30;ms++){
    const major=ms%5===0;
    const t=make(g,'line',{x1:xs(ms),x2:xs(ms),y1:L.y1,y2:L.y1+(major?4:2.5),stroke:'#000','stroke-width':major?1:.8});
    
    
  }
  sgramTimeTicks.forEach(v=>{
    const lab=make(g,'text',{x:xs(v)+(v===5?1:0),y:tickY+6,'text-anchor':'middle','font-size':18},v);
    
    
  });
  const bx=make(g,'rect',{x:xs(5)-8,y:tickY-14,width:17,height:29,fill:'none',stroke:'#ddd','stroke-width':.6});
  
  

  /* colour bar */
  const dbToY=v=>cb.bottom-(v+20)*cb.perDb;
  const grad=make(defs,'linearGradient',{id:'cbar-'+id,x1:0,y1:1,x2:0,y2:0});
  for(let d=-20;d<=cb.max;d+=2){
    make(grad,'stop',{offset:((d+20)/(cb.max+20)).toFixed(3),'stop-color':dbColor(d)});
  }
  const bar=make(g,'rect',{x:1497.5,y:dbToY(cb.max),width:15,height:cb.bottom-dbToY(cb.max),fill:'url(#cbar-'+id+')',stroke:'#000','stroke-width':1.4});
  
  
  cb.ticks.forEach(v=>{
    const y=dbToY(v);
    const t=make(g,'line',{x1:1505,x2:1513,y1:y,y2:y,stroke:'#000','stroke-width':1.4});
    
    
    const lab=make(g,'text',{x:1518,y:y+5.5-(v===-20?cb.low:0),'font-size':16.5},v+' dB');
    
    
  });
}

const cbTicks=[-20,0,20,40,60,80];
const cbTicksLow=[-20,0,20,40,60];

drawWave('a',{x0:75,x1:459,y0:47,y1:303},waveAOnset,waveATop,waveABottom,waveAFloor);
drawSpectrum('b',{x0:604,x1:987,y0:47,y1:302},spectrumB);
drawSgram('c',{x0:1134,x1:1484,y0:49,y1:304},sgramC,streakC,{bottom:305,perDb:2.5,max:83,ticks:cbTicks,low:8},323,'tick-5-box-c');

drawWave('d',{x0:75,x1:459,y0:443,y1:699},waveDOnset,waveDTop,waveDBottom,waveDFloor);
drawSpectrum('e',{x0:604,x1:987,y0:443,y1:699},spectrumE);
drawSgram('f',{x0:1134,x1:1483,y0:443,y1:698},sgramF,streakF,{bottom:699,perDb:2.915,max:68,ticks:cbTicksLow,low:4},717,'tick-5-box-f');

drawWave('g',{x0:75,x1:459,y0:838,y1:1094},waveGOnset,waveGTop,waveGBottom,waveGFloor);
drawSpectrum('h',{x0:604,x1:987,y0:838,y1:1093},spectrumH);
drawSgram('i',{x0:1134,x1:1483,y0:837,y1:1092},sgramI,streakI,{bottom:1092,perDb:2.55,max:80,ticks:cbTicksLow,low:3},1110,'tick-5-box-i');

drawWave('j',{x0:75,x1:459,y0:1233,y1:1488},waveJOnset,waveJTop,waveJBottom,waveJFloor);
drawSpectrum('k',{x0:604,x1:987,y0:1233,y1:1488},spectrumK);
drawSgram('l',{x0:1132,x1:1483,y0:1235,y1:1490},sgramL,streakL,{bottom:1490,perDb:2.395,max:87,ticks:cbTicks,low:2},1508,'tick-5-box-l');
</script>
</body>
</html>
